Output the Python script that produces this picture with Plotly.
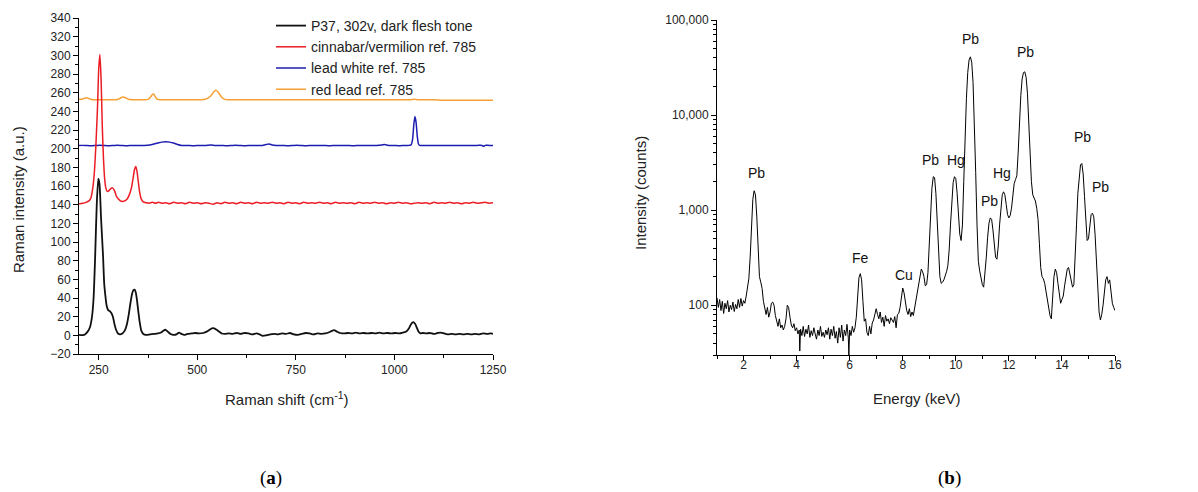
import math
import plotly.graph_objects as go

# ---------------- (a) Raman spectra ----------------
p37_shift = [200, 210, 215, 222, 228, 233, 237, 241, 245, 249, 252, 256, 261, 264, 267, 270, 274, 278, 282, 286,
             290, 294, 299, 304, 310, 316, 321, 326, 331, 335, 338, 341, 344, 347, 350, 354, 358, 363, 370, 380,
             390, 400, 408, 414, 419, 425, 432, 440, 447, 454, 460, 467, 475, 485, 495, 505, 515, 524, 531, 537,
             543, 549, 555, 562, 570, 580, 590, 600, 610, 620, 630, 640, 650, 658, 666, 675, 685, 695, 705, 715,
             725, 735, 745, 755, 765, 775, 785, 795, 805, 815, 825, 833, 840, 847, 854, 862, 872, 882, 892, 902,
             912, 922, 932, 942, 952, 962, 972, 982, 992, 1002, 1012, 1022, 1030, 1036, 1041, 1045, 1049, 1053,
             1057, 1061, 1066, 1072, 1080, 1090, 1100, 1110, 1118, 1126, 1135, 1145, 1155, 1165, 1175, 1185, 1195,
             1205, 1215, 1225, 1235, 1245, 1250]
p37_int = [0.5, 0.3, 1, 4, 9, 20, 40, 85, 140, 168, 162, 125, 85, 55, 42, 32, 27, 26, 24, 20,
           12, 6, 2, 1, 2, 5, 11, 22, 36, 45, 48.5, 49, 46, 38, 27, 14, 5, 1.5, 0.5, 1,
           1.5, 2, 3, 5, 6, 4, 1.5, 0.5, 1, 3, 1.5, 0.5, 1.5, 2, 2.5, 2, 2.5, 4, 6, 7.5,
           7.5, 6, 4, 2, 1.5, 2, 1.5, 2.5, 1.5, 2.5, 2, 1, 2, 1, -0.5, 0, 1, 1.5, 1, 2,
           1.5, 2.5, 1, 0.5, 1.5, 2.5, 2, 1, 2, 1.5, 2, 3, 4.5, 5.5, 4, 2.5, 2, 2.5, 2, 3,
           2, 2.5, 2, 2.5, 2, 3, 2, 2.5, 2, 2.5, 2, 3, 4, 7, 11, 13.5, 14, 12,
           8, 4, 2, 2.5, 2, 2.5, 1.5, 2.5, 3, 2, 1, 1.5, 1, 1.5, 1, 1.5, 1,
           1.5, 1, 2, 1.5, 2, 1.5]

cinnabar_shift = [200, 210, 218, 225, 230, 235, 239, 243, 247, 250, 253, 256, 259, 262, 265, 268, 272, 276, 280, 285,
                  290, 295, 300, 305, 310, 316, 322, 328, 333, 337, 341, 344, 347, 350, 354, 358, 363, 370, 378, 386,
                  394, 402, 410, 420, 430, 440, 450, 460, 470, 480, 490, 500, 510, 520, 530, 540, 550, 560, 570, 580,
                  590, 600, 610, 620, 630, 640, 650, 660, 670, 680, 690, 700, 710, 720, 730, 740, 750, 760, 770, 780,
                  790, 800, 810, 820, 830, 840, 850, 860, 870, 880, 890, 900, 910, 920, 930, 940, 950, 960, 970, 980,
                  990, 1000, 1010, 1020, 1030, 1040, 1050, 1060, 1070, 1080, 1090, 1100, 1110, 1120, 1130, 1140, 1150,
                  1160, 1170, 1180, 1190, 1200, 1210, 1220, 1230, 1240, 1250]
cinnabar_int = [141, 141.5, 142.5, 144, 147, 158, 175, 205, 245, 285, 301, 275, 225, 190, 168, 158, 154, 155, 157, 158,
                155, 149, 146, 144, 143.5, 144, 146, 151, 158, 168, 178, 181, 176, 166, 153, 146, 143, 142, 141.5, 142.5,
                141.5, 142.5, 141.5, 142, 141, 142.5, 141.5, 142, 141, 142.5, 141.5, 142, 141, 142, 141.5, 140.5, 142, 141, 142.5, 141.5,
                142, 141, 142.5, 141.5, 142, 141, 142.5, 141.5, 142, 141.5, 142.5, 141.5, 142, 141, 142.5, 141.5, 142, 141, 142.5, 141.5,
                142, 141.5, 142.5, 141.5, 142, 141, 142.5, 141.5, 142, 141.5, 142, 141, 142.5, 141.5, 142, 141.5, 142.5, 141.5, 142, 141,
                142, 141.5, 142.5, 141.5, 142, 141, 141.5, 142, 141.5, 142, 141, 142.5, 141.5, 142, 141.5, 142.5, 141.5,
                142, 141, 142, 141.5, 142.5, 141.5, 142, 142.5, 141.5, 142]

leadwhite_shift = [200, 215, 230, 245, 260, 275, 290, 305, 320, 335, 350, 365, 380, 390, 400, 410, 420, 430, 440, 450,
                   460, 475, 490, 505, 520, 535, 545, 560, 575, 590, 605, 620, 635, 650, 665, 675, 682, 690, 700, 715,
                   730, 745, 760, 775, 790, 805, 820, 835, 850, 865, 880, 895, 910, 925, 940, 955, 968, 975, 985, 1000,
                   1012, 1025, 1035, 1042, 1046, 1049, 1052, 1055, 1058, 1061, 1064, 1075, 1090, 1105, 1120, 1135, 1150,
                   1165, 1180, 1195, 1210, 1222, 1226, 1230, 1240, 1250]
leadwhite_int = [203.5, 203.5, 203, 203.5, 203.5, 203, 203.5, 203.5, 203, 203.5, 203.5, 203.5, 204, 205, 206, 207, 207.5, 207, 206, 204.5,
                 203.5, 203.5, 203, 203.5, 203.5, 204, 203.5, 203.5, 203, 203.5, 203.5, 203, 203.5, 203.5, 203.5, 204.5, 205, 204, 203.5, 203.5,
                 203, 203.5, 203.5, 203, 203.5, 203.5, 203.5, 203, 203.5, 203.5, 203.5, 203, 203.5, 203.5, 203.5, 203.5, 204, 204.5, 203.5, 203.5,
                 203, 203.5, 203.5, 204, 210, 225, 234.5, 228, 213, 205, 203.5, 203.5, 203.5, 203.5, 203.5, 203.5, 203.5,
                 203.5, 203.5, 203.5, 203.5, 203.5, 202.5, 203.5, 203.5, 203.5]

redlead_shift = [200, 208, 214, 220, 226, 232, 240, 250, 260, 270, 280, 290, 300, 306, 312, 318, 325, 335, 350, 365,
                 375, 381, 386, 389, 393, 398, 405, 420, 435, 450, 465, 480, 495, 510, 520, 528, 535, 541, 547, 552,
                 557, 563, 570, 580, 600, 620, 640, 660, 680, 700, 720, 740, 760, 780, 800, 820, 840, 860, 880, 900,
                 920, 940, 960, 980, 1000, 1020, 1040, 1050, 1060, 1080, 1100, 1120, 1140, 1160, 1180, 1200, 1220,
                 1240, 1250]
redlead_int = [253, 253, 254, 254.5, 253.5, 252.8, 252.5, 252.5, 252.5, 252.3, 252.3, 252.5, 253, 254.5, 255.3, 254.5, 253, 252.5, 252.5, 252.5,
               252.8, 255, 258, 258.5, 256, 253, 252.5, 252.5, 252.3, 252.5, 252.3, 252.5, 252.5, 252.5, 253, 254.5, 257, 260.5, 262.5, 261,
               258, 254.5, 252.8, 252.5, 252.5, 252.5, 252.3, 252.5, 252.3, 252.5, 252.5, 252.3, 252.5, 252.3, 252.5, 252.5, 252.3, 252.5, 252.3, 252.5,
               252.5, 252.3, 252.5, 252.3, 252.5, 252.3, 252.5, 253, 252.5, 252.3, 252.3, 252, 252, 251.8, 252, 251.8, 252,
               251.8, 252]

raman_names = ["P37, 302v, dark flesh tone", "cinnabar/vermilion ref. 785", "lead white ref. 785", "red lead ref. 785"]
raman_x_ticks = [250, 500, 750, 1000, 1250]

# ---------------- (b) XRF spectrum ----------------
xrf_energy = [1.00, 1.05, 1.10, 1.15, 1.20, 1.25, 1.30, 1.35, 1.40, 1.45, 1.50, 1.55, 1.60, 1.65, 1.70, 1.75, 1.80, 1.85, 1.90, 1.95,
              2.00, 2.05, 2.10, 2.15, 2.20, 2.25, 2.30, 2.35, 2.40, 2.45, 2.50, 2.55, 2.60, 2.65, 2.70, 2.75, 2.80, 2.85, 2.90, 2.95,
              3.00, 3.05, 3.10, 3.15, 3.20, 3.25, 3.30, 3.35, 3.40, 3.45, 3.50, 3.55, 3.60, 3.65, 3.70, 3.75, 3.80, 3.85, 3.90, 3.95,
              4.00, 4.05, 4.10, 4.12, 4.15, 4.20, 4.25, 4.30, 4.35, 4.40, 4.45, 4.50, 4.55, 4.60, 4.65, 4.70, 4.75, 4.80, 4.85, 4.90,
              4.95, 5.00, 5.05, 5.10, 5.15, 5.20, 5.25, 5.30, 5.35, 5.40, 5.45, 5.50, 5.55, 5.60, 5.65, 5.70, 5.75, 5.80, 5.85, 5.90,
              5.95, 5.97, 6.00, 6.05, 6.10, 6.15, 6.20, 6.25, 6.30, 6.35, 6.40, 6.45, 6.50, 6.55, 6.60, 6.65, 6.70, 6.75, 6.80, 6.85,
              6.90, 6.95, 7.00, 7.05, 7.10, 7.15, 7.20, 7.25, 7.30, 7.35, 7.40, 7.45, 7.50, 7.55, 7.60, 7.65, 7.70, 7.75, 7.80, 7.85,
              7.90, 7.95, 8.00, 8.05, 8.10, 8.15, 8.20, 8.25, 8.30, 8.35, 8.40, 8.45, 8.50, 8.55, 8.60, 8.65, 8.70, 8.75, 8.80, 8.85,
              8.90, 8.95, 9.00, 9.05, 9.10, 9.15, 9.20, 9.25, 9.30, 9.35, 9.40, 9.45, 9.50, 9.55, 9.60, 9.65, 9.70, 9.75, 9.80, 9.85,
              9.90, 9.95, 10.00, 10.05, 10.10, 10.15, 10.20, 10.25, 10.30, 10.35, 10.40, 10.45, 10.50, 10.55, 10.60, 10.65, 10.70, 10.75, 10.80, 10.85,
              10.90, 10.95, 11.00, 11.05, 11.10, 11.15, 11.20, 11.25, 11.30, 11.35, 11.40, 11.45, 11.50, 11.55, 11.60, 11.65, 11.70, 11.75, 11.80, 11.85,
              11.90, 11.95, 12.00, 12.05, 12.10, 12.15, 12.20, 12.25, 12.30, 12.35, 12.40, 12.45, 12.50, 12.55, 12.60, 12.65, 12.70, 12.75, 12.80, 12.85,
              12.90, 12.95, 13.00, 13.05, 13.10, 13.15, 13.20, 13.25, 13.30, 13.35, 13.40, 13.45, 13.50, 13.55, 13.60, 13.65, 13.70, 13.75, 13.80, 13.85,
              13.90, 13.95, 14.00, 14.05, 14.10, 14.15, 14.20, 14.25, 14.30, 14.35, 14.40, 14.45, 14.50, 14.55, 14.60, 14.65, 14.70, 14.75, 14.80, 14.85,
              14.90, 14.95, 15.00, 15.05, 15.10, 15.15, 15.20, 15.25, 15.30, 15.35, 15.40, 15.45, 15.50, 15.55, 15.60, 15.65, 15.70, 15.75, 15.80, 15.85,
              15.90, 15.95, 16.00]
xrf_counts = [120, 95, 115, 88, 110, 82, 105, 92, 112, 85, 100, 90, 108, 86, 102, 92, 115, 95, 118, 98,
              112, 105, 125, 150, 190, 320, 700, 1300, 1600, 1450, 850, 380, 200, 175, 150, 110, 90, 80, 95, 75,
              85, 105, 108, 100, 78, 68, 60, 72, 58, 62, 55, 60, 72, 100, 95, 75, 62, 58, 64, 54,
              58, 50, 55, 33, 56, 48, 60, 47, 56, 50, 62, 46, 54, 48, 58, 50, 44, 55, 48, 60,
              47, 52, 46, 55, 49, 58, 44, 56, 48, 60, 45, 53, 40, 58, 46, 62, 42, 55, 48, 63,
              45, 30, 55, 48, 60, 52, 58, 75, 130, 195, 215, 185, 110, 68, 72, 52, 48, 60, 50, 65,
              70, 78, 92, 80, 72, 85, 66, 75, 60, 78, 68, 72, 64, 74, 70, 66, 76, 58, 80, 82,
              95, 130, 152, 135, 100, 88, 80, 92, 76, 85, 78, 95, 110, 135, 160, 210, 240, 225, 200, 160,
              165, 220, 420, 900, 1700, 2250, 2200, 1500, 700, 320, 200, 170, 175, 185, 200, 225, 260, 380, 700, 1300,
              1950, 2250, 2150, 1500, 850, 560, 480, 700, 2000, 6000, 15000, 28000, 38000, 41000, 36000, 22000, 9000, 2500, 700, 290,
              230, 190, 165, 155, 210, 320, 520, 730, 830, 800, 620, 420, 320, 305, 420, 700, 1100, 1450, 1560, 1450,
              1150, 900, 830, 880, 1050, 1400, 1900, 2100, 2300, 4000, 8500, 16000, 24000, 28000, 28500, 25000, 17000, 8500, 3800, 2000,
              1450, 1350, 1250, 1050, 800, 450, 250, 200, 190, 170, 140, 110, 90, 78, 72, 120, 200, 240, 220, 170,
              130, 105, 115, 125, 160, 210, 240, 250, 210, 170, 155, 165, 300, 700, 1500, 2400, 3000, 3100, 2400, 1400,
              700, 480, 500, 700, 900, 930, 850, 550, 260, 130, 85, 70, 80, 100, 140, 185, 200, 170, 185, 135,
              105, 95, 88]

peak_labels = ["Pb", "Fe", "Cu", "Pb", "Hg", "Pb", "Pb", "Hg", "Pb", "Pb", "Pb"]
peak_label_energy = [2.48, 6.40, 8.05, 9.06, 10.00, 10.57, 11.28, 11.75, 12.64, 14.77, 15.47]
peak_label_counts = [1920, 245, 163, 2650, 2650, 49200, 988, 1950, 36500, 4660, 1365]

FONT = "Liberation Sans, Arial, sans-serif"
W, H = 1198, 492

fig = go.Figure()

raman_series = [
    (p37_shift, p37_int, raman_names[0], "#111111", 1.8, 1),
    (cinnabar_shift, cinnabar_int, raman_names[1], "#ec1c24", 1.5, 2),
    (leadwhite_shift, leadwhite_int, raman_names[2], "#1c1cb0", 1.5, 3),
    (redlead_shift, redlead_int, raman_names[3], "#f7a033", 1.5, 4),
]
for sx, sy, name, col, lw, rank in [raman_series[0], raman_series[3], raman_series[2], raman_series[1]]:
    fig.add_trace(go.Scatter(x=sx, y=sy, name=name, mode="lines",
                             line=dict(color=col, width=lw, shape="spline", smoothing=0.6),
                             legendrank=rank, xaxis="x", yaxis="y", showlegend=True))

fig.add_trace(go.Scatter(x=xrf_energy, y=xrf_counts, mode="lines", line=dict(color="black", width=1),
                         xaxis="x2", yaxis="y2", showlegend=False))

axis_common = dict(showline=True, linecolor="black", linewidth=1, mirror=False, showgrid=False, zeroline=False,
                   ticks="outside", ticklen=5, tickwidth=1, tickcolor="black",
                   tickfont=dict(family=FONT, size=12, color="#222"), automargin=False)

fig.update_layout(
    width=W, height=H,
    margin=dict(l=0, r=0, t=0, b=0),
    paper_bgcolor="white", plot_bgcolor="white",
    font=dict(family=FONT, color="#222"),
    xaxis=dict(domain=[79 / W, 493 / W], anchor="y", range=[200, 1250], tickvals=raman_x_ticks,
               minor=dict(dtick=125, tick0=250, ticks="outside", ticklen=3, tickcolor="black"), **axis_common),
    yaxis=dict(domain=[1 - 354 / H, 1 - 18 / H], anchor="x", range=[-20, 340], tick0=0, dtick=20,
               minor=dict(dtick=10, tick0=0, ticks="outside", ticklen=3, tickcolor="black"), **axis_common),
    xaxis2=dict(domain=[717 / W, 1115 / W], anchor="y2", range=[1, 16], tick0=0, dtick=2, ticklabelstandoff=-6,
                minor=dict(dtick=1, tick0=0, ticks="outside", ticklen=3, tickcolor="black"), **axis_common),
    yaxis2=dict(domain=[1 - 355 / H, 1 - 20 / H], anchor="x2", type="log", range=[math.log10(30), 5], dtick=1,
                tickformat=",", minor=dict(dtick="D1", ticks="outside", ticklen=3, tickcolor="black"), **axis_common),
    legend=dict(x=271 / W, y=1 - 10 / H, xanchor="left", yanchor="top", bgcolor="rgba(0,0,0,0)",
                font=dict(family=FONT, size=14, color="#222"), itemwidth=30, tracegroupgap=0),
)

ann = []
def paper_text(text, px, py, size=15, angle=0, family=FONT, color="#222"):
    return dict(text=text, x=px / W, y=1 - py / H, xref="paper", yref="paper", xanchor="center",
                yanchor="middle", textangle=angle, showarrow=False,
                font=dict(family=family, size=size, color=color))

ann.append(paper_text("Raman intensity (a.u.)", 18, 200, angle=-90))
ann.append(paper_text("Raman shift (cm<sup>-1</sup>)", 287, 398))
ann.append(paper_text("Intensity (counts)", 640, 193, angle=-90))
ann.append(paper_text("Energy (keV)", 917, 398))
for lab, ex, cy in zip(peak_labels, peak_label_energy, peak_label_counts):
    ann.append(dict(text=lab, x=ex, y=math.log10(cy), xref="x2", yref="y2", showarrow=False,
                    yanchor="bottom", xanchor="center", font=dict(family=FONT, size=14, color="#111")))
ann.append(paper_text("(<b>a</b>)", 271, 478, size=19, family="Liberation Serif, serif", color="black"))
ann.append(paper_text("(<b>b</b>)", 949, 478, size=19, family="Liberation Serif, serif", color="black"))
fig.update_layout(annotations=ann)

fig.write_html("out.html", config={"displayModeBar": False},
               post_script="document.body.style.margin='0px';")
